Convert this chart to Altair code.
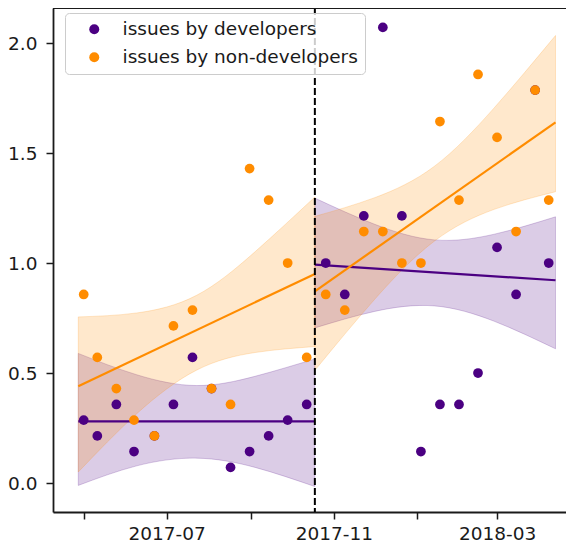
import altair as alt
import pandas as pd

# ---- data ----
dates = ["2017-05-01", "2017-05-11", "2017-05-25", "2017-06-07", "2017-06-22",
         "2017-07-06", "2017-07-20", "2017-08-03", "2017-08-17", "2017-08-31",
         "2017-09-14", "2017-09-28", "2017-10-12",
         "2017-10-26", "2017-11-09", "2017-11-23", "2017-12-07", "2017-12-21",
         "2018-01-04", "2018-01-18", "2018-02-01", "2018-02-15", "2018-03-01",
         "2018-03-15", "2018-03-29", "2018-04-08"]
segments = ["pre"] * 13 + ["post"] * 13
developers = [0.286, 0.214, 0.357, 0.143, 0.214, 0.357, 0.571, 0.429, 0.071, 0.143,
              0.214, 0.286, 0.357,
              1.0, 0.857, 1.214, 2.071, 1.214, 0.143, 0.357, 0.357, 0.5, 1.071,
              0.857, 1.786, 1.0]
non_developers = [0.857, 0.571, 0.429, 0.286, 0.214, 0.714, 0.786, 0.429, 0.357, 1.429,
                  1.286, 1.0, 0.571,
                  0.857, 0.786, 1.143, 1.143, 1.0, 1.0, 1.643, 1.286, 1.857, 1.571,
                  1.143, 1.786, 1.286]
series_names = ["issues by developers", "issues by non-developers"]
colors = ["#4b0082", "#ff8c00"]
split_date = "2017-10-18"

# confidence bands
band_dates_pre = ["2017-04-27", "2017-06-09", "2017-07-23", "2017-09-04", "2017-10-18"]
band_dates_post = ["2017-10-18", "2017-12-01", "2018-01-14", "2018-02-27", "2018-04-13"]
dev_lo_pre = [-0.011, 0.078, 0.113, 0.071, -0.016]
dev_hi_pre = [0.589, 0.492, 0.443, 0.485, 0.564]
non_lo_pre = [0.05, 0.315, 0.513, 0.593, 0.62]
non_hi_pre = [0.755, 0.773, 0.853, 1.051, 1.30]
dev_lo_post = [0.705, 0.78, 0.805, 0.735, 0.61]
dev_hi_post = [1.295, 1.176, 1.105, 1.131, 1.21]
non_lo_post = [0.512, 0.835, 1.10, 1.244, 1.324]
non_hi_post = [1.212, 1.297, 1.44, 1.706, 2.034]

reg_extent_pre = ["2017-04-27", "2017-10-18"]
reg_extent_post = ["2017-10-18", "2018-04-13"]
x_domain = ["2017-04-08 10:00", "2018-04-20 17:00"]
tick_dates = ["2017-05-01", "2017-07-01", "2017-09-01", "2017-11-01", "2018-01-01", "2018-03-01"]
y_domain = [-0.1318, 2.1591]
y_ticks = [0.0, 0.5, 1.0, 1.5, 2.0]

W, H = 513, 504


def ms(s):
    return int(pd.Timestamp(s).value // 10**6)


# ---- tables ----
rows = []
for name, vals in zip(series_names, [developers, non_developers]):
    for d, seg, v in zip(dates, segments, vals):
        rows.append({"date": ms(d), "seg": seg, "series": name, "value": v})
points = pd.DataFrame(rows)

brows = []
for seg, bd, sets in [
    ("pre", band_dates_pre, [(dev_lo_pre, dev_hi_pre), (non_lo_pre, non_hi_pre)]),
    ("post", band_dates_post, [(dev_lo_post, dev_hi_post), (non_lo_post, non_hi_post)]),
]:
    for name, (lo, hi) in zip(series_names, sets):
        for d, a, b in zip(bd, lo, hi):
            brows.append({"date": ms(d), "seg": seg, "series": name, "lo": a, "hi": b})
bands = pd.DataFrame(brows)

split_df = pd.DataFrame({"date": [ms(split_date)]})

AX = "#1a1a1a"
FONT = "DejaVu Sans"
FS = 18.5

xscale = alt.Scale(type="utc", domain=[ms(x_domain[0]), ms(x_domain[1])], nice=False)
yscale = alt.Scale(domain=y_domain, nice=False, zero=False)

x_axis = alt.Axis(
    values=[ms(t) for t in tick_dates],
    labelExpr="utcmonth(datum.value) % 4 == 2 ? utcFormat(datum.value, '%Y-%m') : ''",
    title=None, grid=False, tickSize=7, tickWidth=1.5, tickColor=AX,
    domainColor=AX, domainWidth=1.8, labelFontSize=FS, labelFont=FONT,
    labelColor=AX, labelPadding=5, labelOverlap=False, labelFlush=False,
)
y_axis = alt.Axis(
    values=y_ticks, format=".1f", title=None, grid=False, tickSize=7,
    tickWidth=1.5, tickColor=AX, domainColor=AX, domainWidth=1.8,
    labelFontSize=FS, labelFont=FONT, labelColor=AX, labelPadding=9,
)

layers = []

# bands, one layer per series
for i, (name, col) in enumerate(zip(series_names, colors)):
    enc = dict(
        x=alt.X("date:T", scale=xscale),
        y=alt.Y("lo:Q", scale=yscale),
        y2="hi:Q",
        detail="seg:N",
    )
    if i == 0:
        enc["x"] = alt.X("date:T", scale=xscale, axis=x_axis)
        enc["y"] = alt.Y("lo:Q", scale=yscale, axis=y_axis)
    layers.append(
        alt.Chart(bands).transform_filter(alt.datum.series == name).mark_area(
            interpolate="natural", color=col, fillOpacity=0.2,
            stroke=col, strokeOpacity=0.2, strokeWidth=1,
        ).encode(**enc)
    )

# regression lines, per series and segment
for name, col in zip(series_names, colors):
    for seg, extent in [("pre", reg_extent_pre), ("post", reg_extent_post)]:
        layers.append(
            alt.Chart(points).transform_filter(
                (alt.datum.seg == seg) & (alt.datum.series == name)
            ).transform_regression(
                "date", "value", extent=[ms(extent[0]), ms(extent[1])]
            ).mark_line(strokeWidth=2.2, color=col).encode(
                x=alt.X("date:T", scale=xscale),
                y=alt.Y("value:Q", scale=yscale),
            )
        )

point_layer = alt.Chart(points).mark_circle(size=95, opacity=1).encode(
    x=alt.X("date:T", scale=xscale),
    y=alt.Y("value:Q", scale=yscale),
    color=alt.Color(
        "series:N", scale=alt.Scale(domain=series_names, range=colors),
        legend=alt.Legend(
            title=None, orient="none", legendX=12, legendY=5,
            symbolType="circle", symbolSize=100, symbolOpacity=1,
            symbolStrokeWidth=0, symbolOffset=13, labelOffset=19,
            labelFontSize=FS, labelFont=FONT, labelColor=AX, labelLimit=0,
            padding=7, rowPadding=9,
            fillColor="rgba(255,255,255,0.8)", strokeColor="#cccccc",
            cornerRadius=4,
        ),
    ),
)
layers.append(point_layer)

layers.append(
    alt.Chart(split_df).mark_rule(
        color="black", strokeWidth=2, strokeDash=[7, 3]
    ).encode(x=alt.X("date:T", scale=xscale))
)

layers.append(
    alt.Chart(split_df).mark_rule(color=AX, strokeWidth=1.8).encode(
        x=alt.value(0), x2=alt.value(W), y=alt.value(0)
    )
)

chart = alt.layer(*layers).properties(
    width=W, height=H,
    padding={"left": 45, "top": 0, "right": 0, "bottom": 32},
    autosize="none",
).configure_view(stroke=None).configure(font=FONT)

chart.save("out.html", embed_options={"renderer": "svg", "actions": False})
